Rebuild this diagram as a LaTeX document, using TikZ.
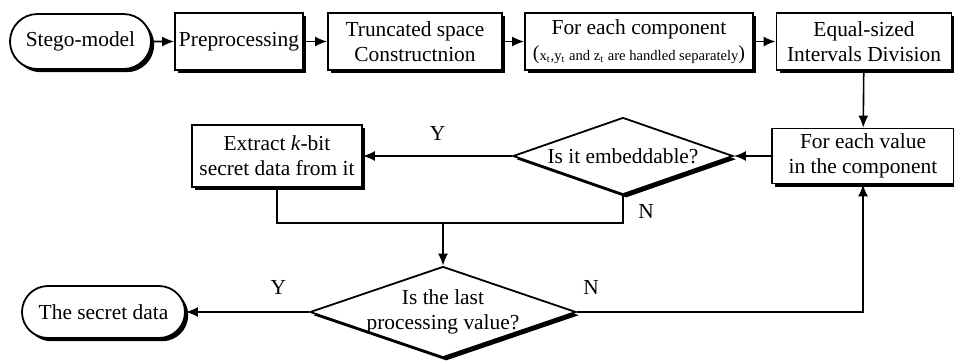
\documentclass[tikz,border=0pt]{standalone}
\usepackage{fontspec}
\setmainfont{Liberation Serif}
\usetikzlibrary{shapes.geometric,shapes.misc,shadows,arrows.meta}

\tikzset{
  shad/.style={drop shadow={opacity=1,fill=black,shadow xshift=1.6pt,shadow yshift=-1.6pt}},
  procbox/.style={draw,line width=0.9pt,fill=white,shad,align=center,inner sep=1pt,
    font=\fontsize{10.7}{12.5}\selectfont},
  termbox/.style={procbox,rounded rectangle},
  decbox/.style={procbox,diamond,aspect=3,inner xsep=-14pt,inner ysep=0pt},
  lbl/.style={font=\fontsize{10.7}{12.5}\selectfont}
}
\newcommand{\bigpar}[1]{{\fontsize{10}{10}\selectfont\raisebox{0.3pt}{#1}}}

\begin{document}
\begin{tikzpicture}[x=0.5pt,y=-0.5pt,>={Latex[length=6pt,width=5pt]},line width=0.8pt]
   \useasboundingbox (0,0) rectangle (954,360);

   % top row
   \node[termbox,minimum width=72.5pt,minimum height=27.5pt] (stego) at (80.5,41.5) {Stego-model};
   \node[procbox,minimum width=64pt,minimum height=28.5pt] (prep) at (239,41.5) {Preprocessing};
   \node[procbox,minimum width=87pt,minimum height=28.5pt] (trunc) at (415,41.5) {Truncated space\\Constructnion};
   \node[procbox,minimum width=114pt,minimum height=28.5pt] (comp) at (639,41.5)
     {For each component\\[0.5pt]{\fontsize{7.3}{8}\selectfont\bigpar{(}x\textsubscript{t},y\textsubscript{t} and z\textsubscript{t} are handled separately\bigpar{)}}};
   \node[procbox,minimum width=87.5pt,minimum height=28.5pt] (equal) at (864,41.5) {Equal-sized\\Intervals Division};

   % middle row
   \node[procbox,minimum width=91pt,minimum height=27.5pt] (value) at (863,156) {For each value\\in the component};
   \node[decbox,minimum width=110pt,minimum height=38.5pt] (embed) at (623,156) {Is it embeddable?};
   \node[procbox,minimum width=85pt,minimum height=31pt] (extract) at (277,156) {Extract \textit{k}-bit\\secret data from it};
   \coordinate (join) at (443,223);

   % bottom row
   \node[decbox,minimum width=133pt,minimum height=45.5pt] (last) at (443,312) {Is the last\\processing value?};
   \node[termbox,minimum width=83.5pt,minimum height=26pt] (secret) at (103.5,312) {The secret data};

   \draw[->] (stego) -- (prep);
   \draw[->] (prep) -- (trunc);
   \draw[->] (trunc) -- (comp);
   \draw[->] (comp) -- (equal);
   \draw[->] (equal) -- (value);
   \draw[->] (value) -- (embed);
   \draw[->] (embed) -- node[lbl,above=4pt]{Y} (extract);
   \draw (embed.south) |- node[lbl,pos=0.3,right=4pt]{N} (join);
   \draw (extract.south) |- (join);
   \draw[->] (join) -- (last.north);
   \draw[->] (last.west) -- node[lbl,above=5pt,pos=0.25]{Y} (secret.east);
   \draw[->] (last.east) -| node[lbl,above=5pt,pos=0.025]{N} (value.south);
\end{tikzpicture}
\end{document}
